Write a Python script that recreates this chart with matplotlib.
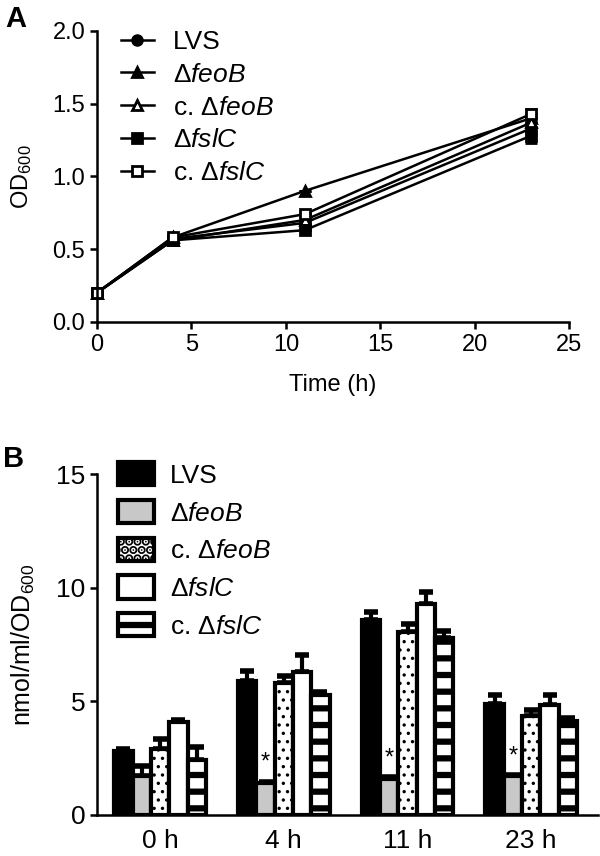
import numpy as np
import matplotlib
matplotlib.use('Agg')
from matplotlib import pyplot as plt
from matplotlib.patches import Patch
from matplotlib.lines import Line2D

plt.rcParams['font.family'] = ['Liberation Sans', 'DejaVu Sans']
plt.rcParams['mathtext.fontset'] = 'custom'
plt.rcParams['mathtext.rm'] = 'Liberation Sans'
plt.rcParams['mathtext.it'] = 'Liberation Sans:italic'

strains = ['LVS', r'$\Delta\mathit{feoB}$', r'c. $\Delta\mathit{feoB}$',
           r'$\Delta\mathit{fslC}$', r'c. $\Delta\mathit{fslC}$']

# panel A: growth curve
time_h = [0, 4, 11, 23]
od_lvs = [0.20, 0.57, 0.68, 1.33]
od_feob = [0.20, 0.58, 0.90, 1.40]
od_cfeob = [0.20, 0.56, 0.70, 1.37]
od_fslc = [0.20, 0.56, 0.63, 1.28]
od_cfslc = [0.20, 0.58, 0.74, 1.43]
od_err_23 = [0.04, 0.03, 0.03, 0.05, 0.03]

# panel B: iron content
timepoints = ['0 h', '4 h', '11 h', '23 h']
fe_lvs = [2.8, 5.9, 8.6, 4.9]
fe_feob = [1.7, 1.4, 1.6, 1.7]
fe_cfeob = [2.9, 5.8, 8.05, 4.35]
fe_fslc = [4.1, 6.3, 9.3, 4.85]
fe_cfslc = [2.4, 5.3, 7.8, 4.15]
err_lvs = [0.1, 0.45, 0.35, 0.4]
err_feob = [0.45, 0.05, 0.05, 0.05]
err_cfeob = [0.45, 0.3, 0.35, 0.25]
err_fslc = [0.1, 0.75, 0.5, 0.45]
err_cfslc = [0.6, 0.1, 0.3, 0.1]

fig = plt.figure(figsize=(6, 8.56), dpi=100)

# ---- A ----
ax1 = fig.add_axes([0.1617, 0.624, 0.787, 0.340])
series = [od_lvs, od_feob, od_cfeob, od_fslc, od_cfslc]
markers = ['o', '^', '^', 's', 's']
faces = ['black', 'black', 'white', 'black', 'white']
leg_a = []
for i, ys in enumerate(series):
    err = [0, 0, 0, od_err_23[i]]
    ax1.errorbar(time_h, ys, yerr=err, color='black', lw=1.8, marker=markers[i],
                 ms=7, mfc=faces[i], mec='black', mew=2, capsize=4, capthick=2,
                 elinewidth=1.8, clip_on=False)
    leg_a.append(Line2D([], [], color='black', lw=1.8, marker=markers[i], ms=7,
                        mfc=faces[i], mec='black', mew=2, label=strains[i]))
ax1.set_xlim(0, 25)
ax1.set_ylim(0, 2.0)
ax1.set_xticks([0, 5, 10, 15, 20, 25])
ax1.set_yticks([0.0, 0.5, 1.0, 1.5, 2.0])
ax1.set_yticklabels(['0.0', '0.5', '1.0', '1.5', '2.0'])
ax1.spines['top'].set_visible(False)
ax1.spines['right'].set_visible(False)
for s in ['left', 'bottom']:
    ax1.spines[s].set_linewidth(1.8)
ax1.tick_params(width=1.8, length=5, labelsize=17)
ax1.set_xlabel('Time (h)', fontsize=17, labelpad=13)
ax1.set_ylabel(r'OD$_{600}$', fontsize=17, labelpad=13)
ax1.legend(handles=leg_a, loc='upper left', bbox_to_anchor=(0.0, 1.085), frameon=False,
           fontsize=19, handlelength=1.25, labelspacing=0.335, handletextpad=0.72)
fig.text(0.008, 0.968, 'A', fontsize=21, fontweight='bold')

# ---- B ----
ax2 = fig.add_axes([0.1617, 0.048, 0.835, 0.398])
x = np.arange(len(timepoints))
w = 0.148
bar_vals = [fe_lvs, fe_feob, fe_cfeob, fe_fslc, fe_cfslc]
bar_errs = [err_lvs, err_feob, err_cfeob, err_fslc, err_cfslc]
fills = ['black', '#c8c8c8', 'white', 'white', 'white']
hatches = [None, None, '..', None, '-']
hatch_lw = [1.0, 1.0, 1.2, 1.0, 4.5]
handles = []
for i in range(5):
    plt.rcParams['hatch.linewidth'] = hatch_lw[i]
    pos = x + (i - 2) * w
    ax2.bar(pos, bar_vals[i], w, color=fills[i], edgecolor='black', lw=3,
            hatch=hatches[i], zorder=2)
    ax2.errorbar(pos, bar_vals[i], yerr=[np.zeros(4), bar_errs[i]], fmt='none',
                 ecolor='black', elinewidth=3, capsize=5, capthick=4, zorder=1)
    handles.append(Patch(facecolor=fills[i], edgecolor='black', lw=3,
                         hatch=hatches[i], label=strains[i]))
for i in range(1, 4):
    ax2.text(x[i] - w, fe_feob[i] + 0.4, '*', ha='center', va='bottom', fontsize=17)
ax2.set_xlim(-0.51, 3.54)
ax2.set_ylim(0, 15)
ax2.set_xticks(x)
ax2.set_xticklabels(timepoints)
ax2.set_yticks([0, 5, 10, 15])
ax2.spines['top'].set_visible(False)
ax2.spines['right'].set_visible(False)
for s in ['left', 'bottom']:
    ax2.spines[s].set_linewidth(1.8)
ax2.tick_params(axis='y', width=1.8, length=5, labelsize=19)
ax2.tick_params(axis='x', length=0, labelsize=19, pad=10)
ax2.set_ylabel('nmol/ml/OD$_{600}$', fontsize=18, labelpad=14)
ax2.legend(handles=handles, loc='upper left', bbox_to_anchor=(-0.005, 1.105),
           frameon=False, fontsize=19, handlelength=1.34, handleheight=0.98,
           labelspacing=0.457, handletextpad=0.63)
fig.text(0.005, 0.455, 'B', fontsize=21, fontweight='bold')

fig.savefig('out.png', dpi=100)
